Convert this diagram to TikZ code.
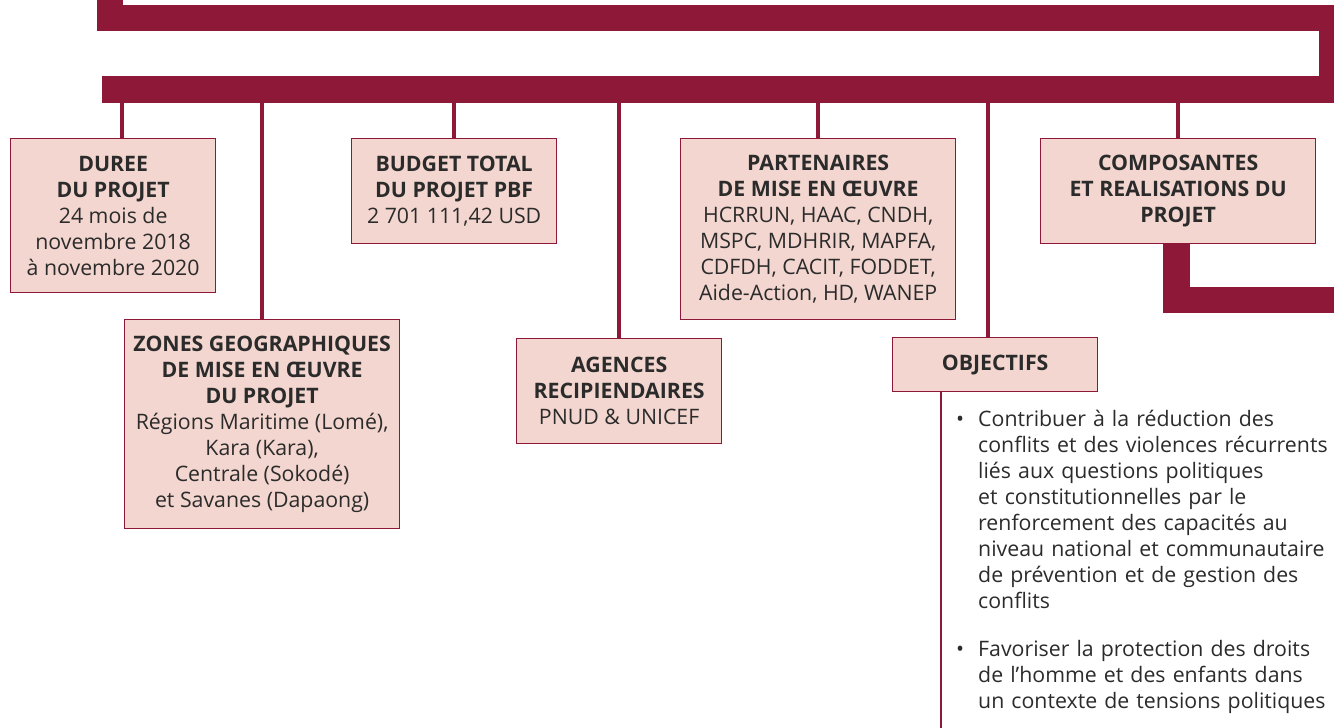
\documentclass[tikz,border=0pt]{standalone}
\usepackage{fontspec}
\setmainfont{Open Sans}
\usepackage{xcolor}
\usepackage{tikz}
\usetikzlibrary{positioning,calc}

\definecolor{bordeaux}{HTML}{8E1838}
\definecolor{rose}{HTML}{F3D6CF}
\definecolor{encre}{HTML}{2B2B2B}

\begin{document}
\begin{tikzpicture}[
    x=1pt, y=-1pt,
    box/.style={draw=bordeaux, line width=1.3pt, fill=rose, text=encre, anchor=north west, align=center, inner sep=0pt, font=\fontsize{21.3pt}{26pt}\selectfont},
    band/.style={draw=bordeaux, line width=26.5pt, line join=miter},
    stem/.style={draw=bordeaux, line width=4pt},
    puce/.style={anchor=base west, text=encre, align=left, text width=400pt, inner sep=0pt, font=\fontsize{21.3pt}{26pt}\selectfont}
]
\useasboundingbox (0,0) rectangle (1334,728);

% the two big bands across the top
\coordinate (entree) at (110,-40);
\coordinate (barre) at (102,89.5);
\draw[band] (entree) -- (110,18) -- (1332,18) -- (1332,89.5) -- (barre);

% boxes
\node[box, minimum width=205pt, minimum height=154pt] (duree) at (10,138) {\textbf{DUREE}\\\textbf{DU PROJET}\\24 mois de\\novembre 2018\\à novembre 2020};
\node[box, minimum width=275pt, minimum height=209pt] (zones) at (124,319) {\textbf{ZONES GEOGRAPHIQUES}\\\textbf{DE MISE EN ŒUVRE}\\\textbf{DU PROJET}\\Régions Maritime (Lomé),\\Kara (Kara),\\Centrale (Sokodé)\\et Savanes (Dapaong)};
\node[box, minimum width=205pt, minimum height=105pt] (budget) at (351,138) {\textbf{BUDGET TOTAL}\\\textbf{DU PROJET PBF}\\2 701 111,42 USD};
\node[box, minimum width=205pt, minimum height=105pt] (agences) at (516,338) {\textbf{AGENCES}\\\textbf{RECIPIENDAIRES}\\PNUD \& UNICEF};
\node[box, minimum width=275pt, minimum height=181pt] (partenaires) at (680,138) {\textbf{PARTENAIRES}\\\textbf{DE MISE EN ŒUVRE}\\HCRRUN, HAAC, CNDH,\\MSPC, MDHRIR, MAPFA,\\CDFDH, CACIT, FODDET,\\Aide-Action, HD, WANEP};
\node[box, minimum width=205pt, minimum height=54pt] (objectifs) at (892,337) {\textbf{OBJECTIFS}};
\node[box, minimum width=275pt, minimum height=105pt] (composantes) at (1040,138) {\textbf{COMPOSANTES}\\\textbf{ET REALISATIONS DU}\\\textbf{PROJET}};

% stems from the lower band
\coordinate (dureeTop) at ([xshift=8.5pt]duree.north);
\coordinate (objTop) at ([xshift=-7.5pt]objectifs.north);
\draw[stem] (dureeTop) -- (dureeTop |- barre);
\draw[stem] (zones.north) -- (zones.north |- barre);
\draw[stem] (budget.north) -- (budget.north |- barre);
\draw[stem] (agences.north) -- (agences.north |- barre);
\draw[stem] (partenaires.north) -- (partenaires.north |- barre);
\draw[stem] (objTop) -- (objTop |- barre);
\draw[stem] (composantes.north) -- (composantes.north |- barre);

% band leaving the last box
\coordinate (sortie) at (1370,300);
\draw[band] ([xshift=-1.5pt]composantes.south) |- (sortie);

% objectives list
\coordinate (finObj) at (941,740);
\draw[bordeaux, line width=1.8pt] (finObj |- objectifs.south) -- (finObj);
\node[puce] (obj1) at (978,426) {\llap{•\hspace{14pt}}Contribuer à la réduction des\\conflits et des violences récurrents\\liés aux questions politiques\\et constitutionnelles par le\\renforcement des capacités au\\niveau national et communautaire\\de prévention et de gestion des\\conflits};
\node[puce] (obj2) at (978,656) {\llap{•\hspace{14pt}}Favoriser la protection des droits\\de l’homme et des enfants dans\\un contexte de tensions politiques};
\end{tikzpicture}
\end{document}
